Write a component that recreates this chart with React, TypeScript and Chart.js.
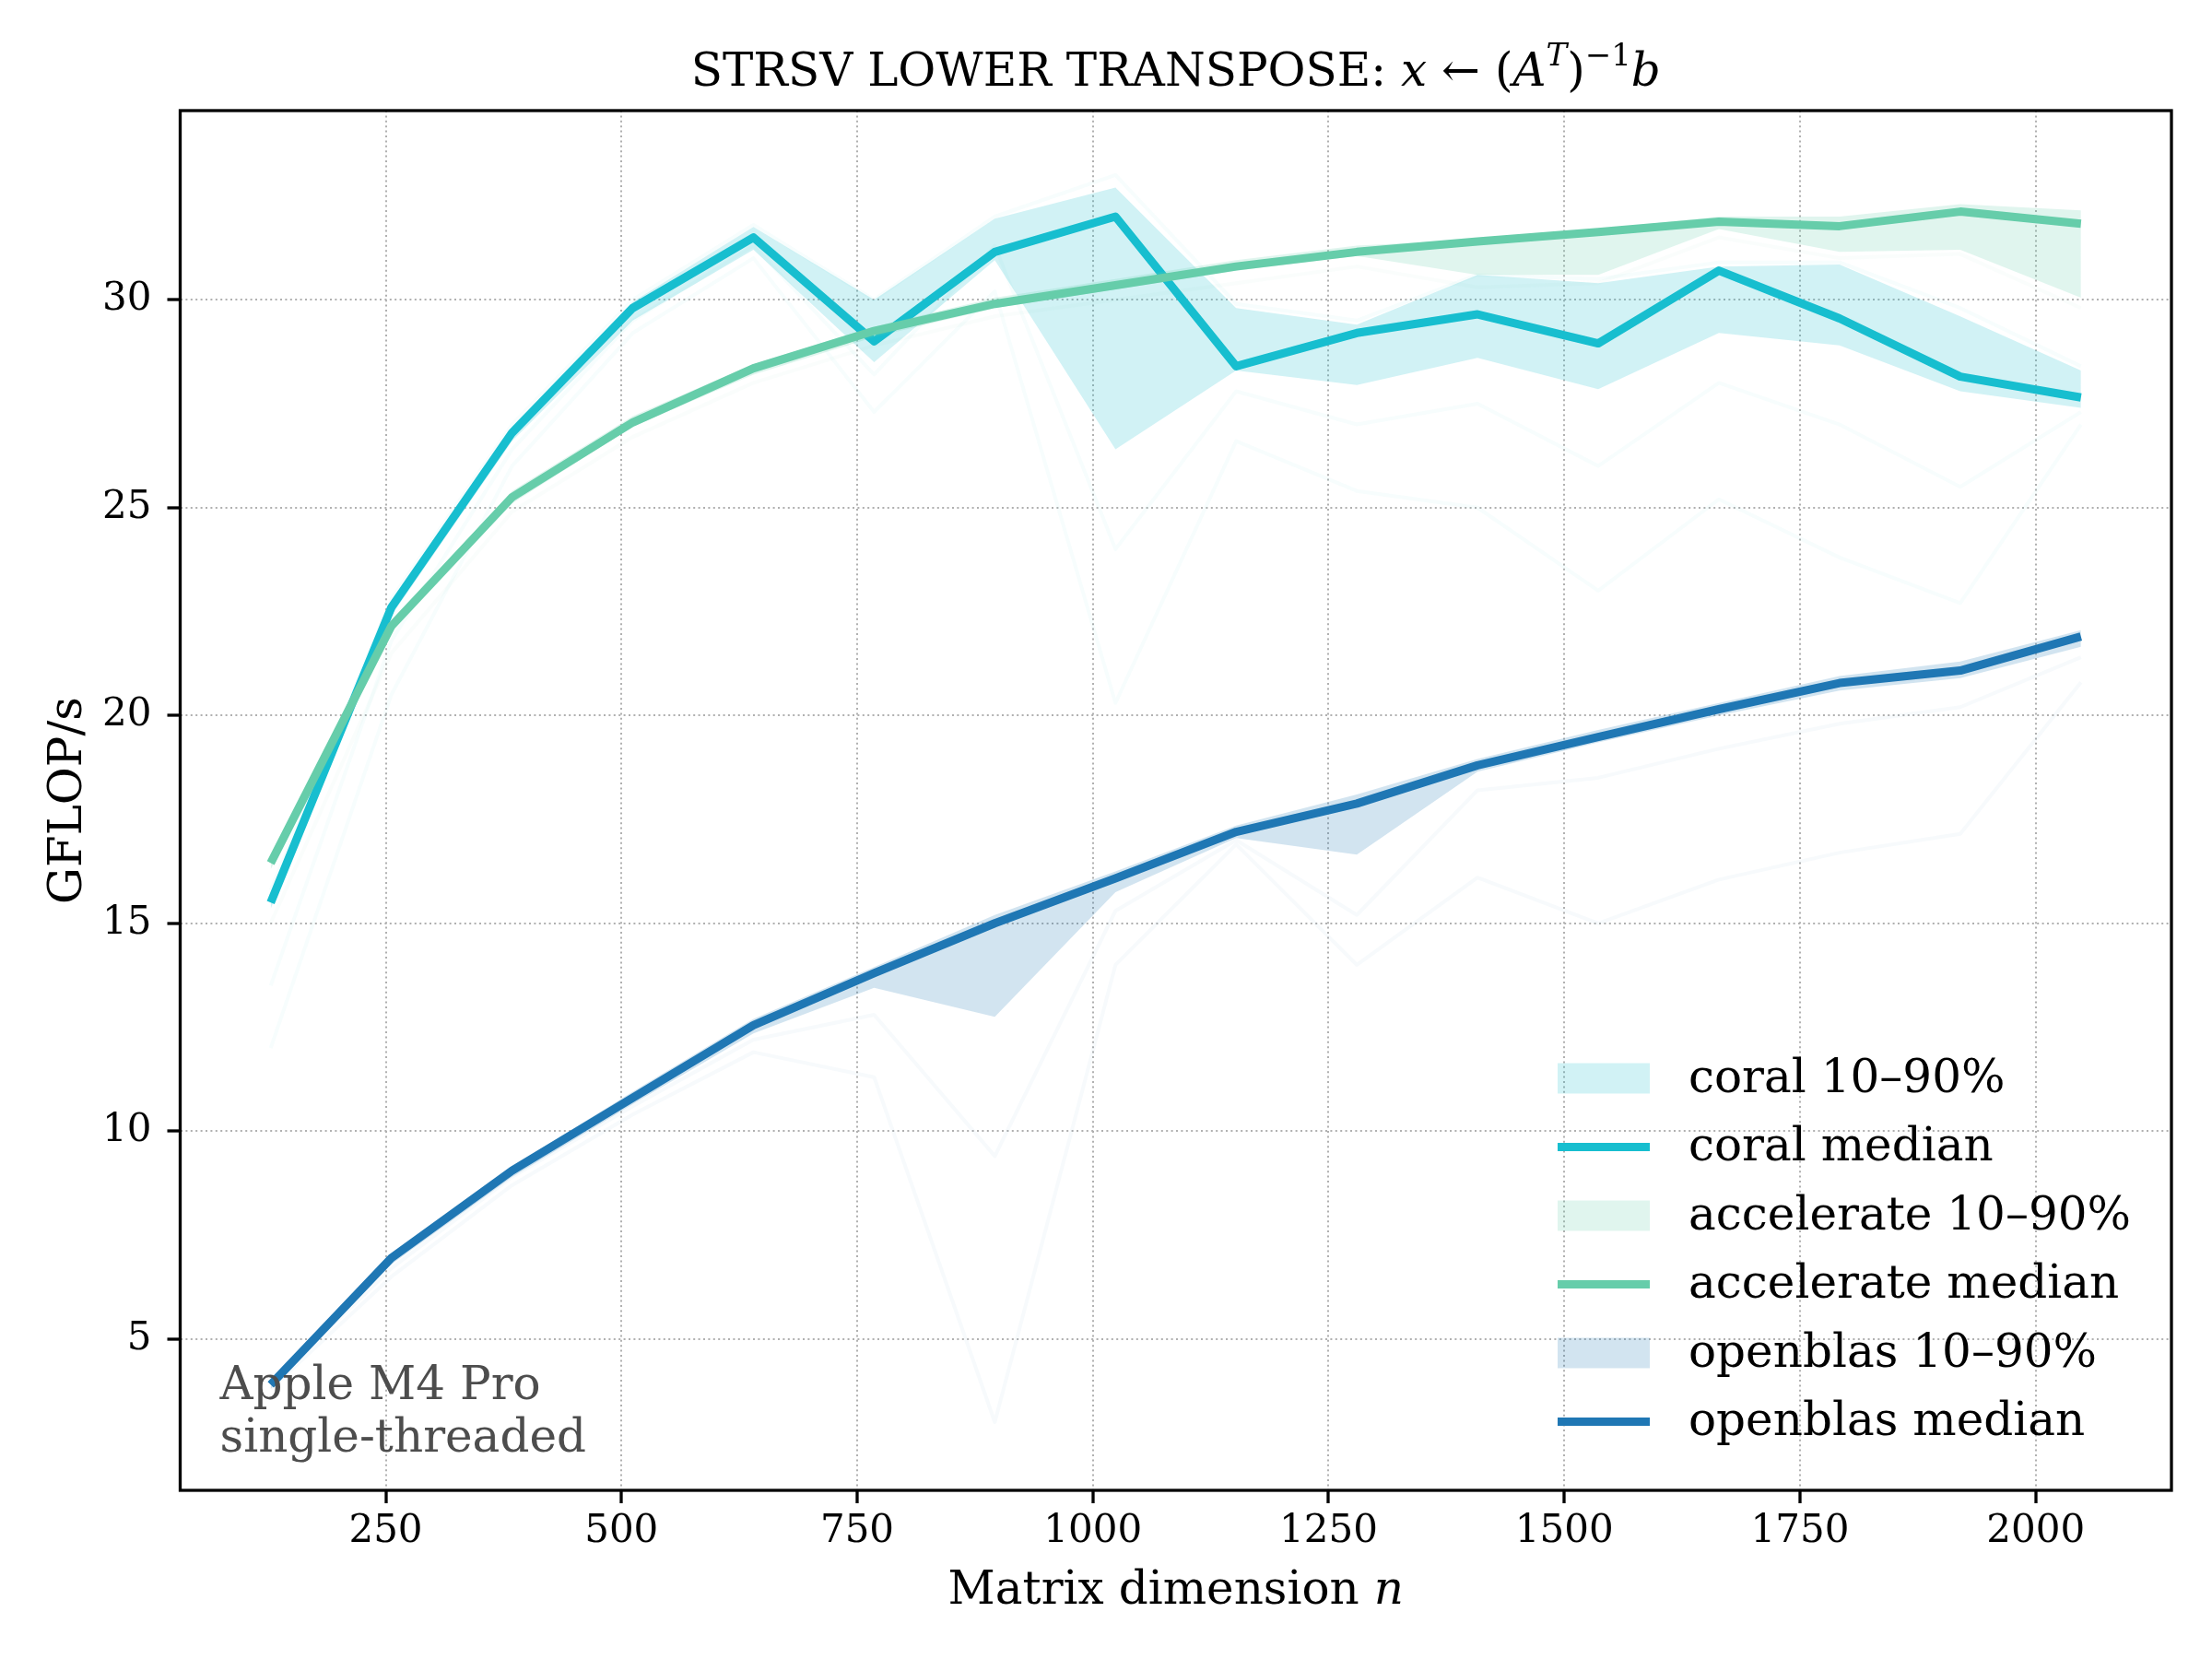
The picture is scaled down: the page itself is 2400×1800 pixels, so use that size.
import { useEffect, useRef } from "react";
import { Chart, registerables } from "chart.js";

Chart.register(...registerables);

// matrix dimension n for every sample
const matrixSizes = [128, 256, 384, 512, 640, 768, 896, 1024, 1152, 1280, 1408, 1536, 1664, 1792, 1920, 2048];

// coral
const coralMedian = [15.5, 22.6, 26.8, 29.8, 31.5, 29.0, 31.15, 32.0, 28.4, 29.2, 29.65, 28.95, 30.7, 29.55, 28.15, 27.65];
const coralP10 = [15.35, 22.4, 26.6, 29.5, 31.2, 28.5, 30.95, 26.4, 28.3, 27.95, 28.6, 27.85, 29.2, 28.9, 27.8, 27.4];
const coralP90 = [15.7, 22.75, 26.95, 29.95, 31.75, 30.0, 31.95, 32.7, 29.8, 29.4, 30.6, 30.4, 30.8, 30.85, 29.6, 28.3];
const coralRunLow = [12.0, 20.5, 26.0, 29.2, 31.0, 27.3, 30.2, 20.3, 26.6, 25.4, 25.0, 23.0, 25.2, 23.8, 22.7, 27.0];
const coralRunMid = [13.5, 21.8, 26.4, 29.5, 31.3, 28.2, 31.3, 24.0, 27.8, 27.0, 27.5, 26.0, 28.0, 27.0, 25.5, 27.3];
const coralRunHigh = [15.8, 22.8, 27.0, 30.0, 31.8, 30.0, 32.0, 33.0, 29.9, 29.5, 30.6, 30.5, 30.9, 30.9, 29.8, 28.4];

// accelerate
const accelerateMedian = [16.45, 22.15, 25.25, 27.05, 28.35, 29.25, 29.9, 30.35, 30.8, 31.15, 31.4, 31.63, 31.88, 31.77, 32.12, 31.83];
const accelerateP10 = [16.3, 22.0, 25.1, 26.95, 28.2, 29.1, 29.8, 30.25, 30.7, 31.05, 30.6, 30.6, 31.7, 31.15, 31.2, 30.05];
const accelerateP90 = [16.6, 22.25, 25.4, 27.2, 28.45, 29.35, 30.05, 30.5, 30.95, 31.3, 31.45, 31.7, 32.0, 32.0, 32.3, 32.15];
const accelerateRunLow = [15.0, 21.5, 24.9, 26.7, 28.0, 28.9, 29.6, 30.0, 30.4, 30.8, 30.3, 30.4, 31.5, 31.0, 31.1, 29.8];

// openblas
const openblasMedian = [3.9, 6.95, 9.05, 10.8, 12.55, 13.8, 15.0, 16.08, 17.2, 17.88, 18.8, 19.48, 20.15, 20.78, 21.08, 21.9];
const openblasP10 = [3.8, 6.8, 8.9, 10.65, 12.35, 13.45, 12.75, 15.75, 17.05, 16.65, 18.65, 19.35, 20.0, 20.6, 20.9, 21.65];
const openblasP90 = [4.05, 7.05, 9.15, 10.95, 12.7, 13.95, 15.2, 16.25, 17.35, 18.1, 18.95, 19.65, 20.3, 20.95, 21.3, 22.05];
const openblasRunLow = [3.8, 6.5, 8.7, 10.4, 11.9, 11.3, 3.0, 14.0, 16.9, 14.0, 16.1, 15.0, 16.05, 16.7, 17.15, 20.8];
const openblasRunMid = [3.9, 6.7, 8.9, 10.6, 12.2, 12.8, 9.4, 15.3, 17.0, 15.2, 18.2, 18.5, 19.2, 19.8, 20.2, 21.4];

const xTicks = [250, 500, 750, 1000, 1250, 1500, 1750, 2000];
const yTicks = [5, 10, 15, 20, 25, 30];

const SERIF = "'DejaVu Serif', serif";

const rgba = (hex: string, a: number) => {
  const n = parseInt(hex.slice(1), 16);
  return `rgba(${(n >> 16) & 255}, ${(n >> 8) & 255}, ${n & 255}, ${a})`;
};

const pts = (vals: number[]) => matrixSizes.map((n, i) => ({ x: n, y: vals[i] }));

const libs = [
  { name: "coral", color: "#17becf", med: coralMedian, lo: coralP10, hi: coralP90, runs: [coralRunLow, coralRunMid, coralRunHigh] },
  { name: "accelerate", color: "#66cdaa", med: accelerateMedian, lo: accelerateP10, hi: accelerateP90, runs: [accelerateRunLow] },
  { name: "openblas", color: "#1f77b4", med: openblasMedian, lo: openblasP10, hi: openblasP90, runs: [openblasRunLow, openblasRunMid] },
];

type Run = { text: string; font: string; dy?: number };

function drawRuns(ctx: CanvasRenderingContext2D, runs: Run[], cx: number, baseline: number) {
  let total = 0;
  for (const r of runs) {
    ctx.font = r.font;
    total += ctx.measureText(r.text).width;
  }
  let x = cx - total / 2;
  ctx.textAlign = "left";
  ctx.textBaseline = "alphabetic";
  for (const r of runs) {
    ctx.font = r.font;
    ctx.fillText(r.text, x, baseline + (r.dy || 0));
    x += ctx.measureText(r.text).width;
  }
}

const overlayPlugin = {
  id: "overlay",
  afterDraw(chart: any) {
    const { ctx, chartArea: a } = chart;
    ctx.save();
    ctx.fillStyle = "#000";

    // axes frame
    ctx.strokeStyle = "#000";
    ctx.lineWidth = 3.3;
    ctx.setLineDash([]);
    ctx.strokeRect(a.left, a.top, a.right - a.left, a.bottom - a.top);

    const cx = (a.left + a.right) / 2;
    const big = `50px ${SERIF}`;
    const bigIt = `italic 50px ${SERIF}`;
    const small = `34px ${SERIF}`;
    const smallIt = `italic 34px ${SERIF}`;

    drawRuns(ctx, [
      { text: "STRSV LOWER TRANSPOSE: ", font: big },
      { text: "x", font: bigIt },
      { text: " \u2190 ", font: big },
      { text: "(", font: big },
      { text: "A", font: bigIt },
      { text: "T", font: smallIt, dy: -22 },
      { text: ")", font: big },
      { text: "\u22121", font: small, dy: -22 },
      { text: "b", font: bigIt },
    ], cx, 93);

    drawRuns(ctx, [
      { text: "Matrix dimension ", font: big },
      { text: "n", font: bigIt },
    ], cx, 1740);

    ctx.save();
    ctx.translate(88, (a.top + a.bottom) / 2);
    ctx.rotate(-Math.PI / 2);
    ctx.font = big;
    ctx.textAlign = "center";
    ctx.textBaseline = "alphabetic";
    ctx.fillText("GFLOP/s", 0, 0);
    ctx.restore();

    // annotation
    ctx.font = big;
    ctx.fillStyle = "#4d4d4d";
    ctx.textAlign = "left";
    ctx.textBaseline = "alphabetic";
    ctx.fillText("Apple M4 Pro", a.left + 43, 1518);
    ctx.fillText("single-threaded", a.left + 43, 1575);

    // legend
    const entries = chart.data.datasets.filter((d: any) => d.legendKind);
    entries.sort((p: any, q: any) => p.legendRank - q.legendRank);
    entries.forEach((d: any, i: number) => {
      const yc = 1170 + i * 74.5;
      if (d.legendKind === "patch") {
        ctx.fillStyle = d.backgroundColor;
        ctx.fillRect(1690, yc - 16.5, 100, 33);
      } else {
        ctx.strokeStyle = d.borderColor;
        ctx.lineWidth = d.borderWidth;
        ctx.beginPath();
        ctx.moveTo(1690, yc);
        ctx.lineTo(1790, yc);
        ctx.stroke();
      }
      ctx.fillStyle = "#000";
      ctx.font = big;
      ctx.textBaseline = "middle";
      ctx.fillText(d.label, 1832, yc + 2);
    });
    ctx.restore();
  },
};

export default function App() {
  const canvasRef = useRef<HTMLCanvasElement>(null);
  const chartRef = useRef<Chart | null>(null);

  useEffect(() => {
    document.body.style.margin = "0";
    if (!canvasRef.current) return;
    const ctx = canvasRef.current.getContext("2d");
    if (!ctx) return;

    const datasets: any[] = [];
    let rank = 0;
    libs.forEach((lib) => {
      // faint individual runs
      lib.runs.forEach((run) => {
        datasets.push({
          data: pts(run),
          borderColor: rgba(lib.color, 0.035),
          borderWidth: 4,
          fill: false,
        });
      });
      datasets.push({
        data: pts(lib.lo),
        borderWidth: 0,
        borderColor: "transparent",
        fill: false,
      });
      datasets.push({
        label: `${lib.name} 10\u201390%`,
        data: pts(lib.hi),
        borderWidth: 0,
        borderColor: "transparent",
        backgroundColor: rgba(lib.color, 0.2),
        fill: "-1",
        legendKind: "patch",
        legendRank: rank++,
      });
      datasets.push({
        label: `${lib.name} median`,
        data: pts(lib.med),
        borderColor: lib.color,
        borderWidth: 9,
        fill: false,
        legendKind: "line",
        legendRank: rank++,
      });
    });
    // later datasets on top
    datasets.forEach((d, i) => {
      d.order = datasets.length - i;
      d.pointRadius = 0;
      d.tension = 0;
      d.borderJoinStyle = "round";
      d.borderCapStyle = "butt";
    });

    const gridCommon = {
      color: "#b0b0b0",
      lineWidth: 2,
      tickColor: "#000",
      tickWidth: 3.3,
      tickLength: 14,
      tickBorderDash: [],
    };

    chartRef.current = new Chart(ctx, {
      type: "line",
      data: { datasets },
      options: {
        animation: false,
        responsive: false,
        devicePixelRatio: 1,
        layout: { padding: { top: 120, right: 44, bottom: 0, left: 0 } },
        plugins: {
          legend: { display: false },
          title: { display: false },
          tooltip: { enabled: false },
        },
        scales: {
          x: {
            type: "linear",
            min: 32,
            max: 2144,
            afterBuildTicks: (s: any) => {
              s.ticks = xTicks.map((v) => ({ value: v }));
            },
            afterFit: (s: any) => {
              s.height = 183;
            },
            ticks: {
              autoSkip: false,
              maxRotation: 0,
              padding: 6,
              color: "#000",
              font: { family: SERIF, size: 42 },
              callback: (v: any) => String(v),
            },
            grid: gridCommon,
            border: { display: false, dash: [2, 3.4] },
          },
          y: {
            type: "linear",
            min: 1.36,
            max: 34.55,
            afterBuildTicks: (s: any) => {
              s.ticks = yTicks.map((v) => ({ value: v }));
            },
            afterFit: (s: any) => {
              s.width = 195.5;
            },
            ticks: {
              padding: 17,
              color: "#000",
              font: { family: SERIF, size: 42 },
              callback: (v: any) => String(v),
            },
            grid: gridCommon,
            border: { display: false, dash: [2, 3.4] },
          },
        },
      } as any,
      plugins: [overlayPlugin],
    });

    return () => {
      if (chartRef.current) {
        chartRef.current.destroy();
        chartRef.current = null;
      }
    };
  }, []);

  return (
    <div style={{ position: "absolute", left: 0, top: 0, width: 2400, height: 1800, background: "#fff" }}>
      <canvas ref={canvasRef} width={2400} height={1800} style={{ width: 2400, height: 1800 }}></canvas>
    </div>
  );
}
